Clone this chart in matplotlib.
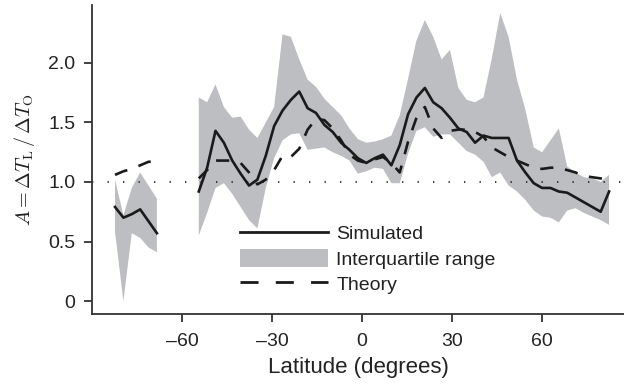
import matplotlib
matplotlib.use('Agg')
import matplotlib.pyplot as plt
from matplotlib.patches import Patch
from matplotlib.lines import Line2D
import numpy as np

nan = np.nan

# T42 grid latitudes (degrees)
lat = [-82.33, -79.53, -76.74, -73.95, -71.16, -68.37,
       -65.58, -62.79, -60.00, -57.21,
       -54.42, -51.63, -48.84, -46.05, -43.26, -40.47, -37.67, -34.88,
       -32.09, -29.30, -26.51, -23.72, -20.93, -18.14, -15.35, -12.56,
       -9.77, -6.98, -4.19, -1.40, 1.40, 4.19, 6.98, 9.77, 12.56, 15.35,
       18.14, 20.93, 23.72, 26.51, 29.30, 32.09, 34.88, 37.67, 40.47,
       43.26, 46.05, 48.84, 51.63, 54.42, 57.21, 60.00, 62.79, 65.58,
       68.37, 71.16, 73.95, 76.74, 79.53, 82.33]

simulated = [0.79, 0.70, 0.73, 0.77, 0.67, 0.57,
             nan, nan, nan, nan,
             0.92, 1.12, 1.43, 1.33, 1.18, 1.07, 0.97, 1.02,
             1.22, 1.47, 1.60, 1.69, 1.76, 1.62, 1.58, 1.48,
             1.42, 1.33, 1.27, 1.20, 1.16, 1.20, 1.23, 1.14, 1.31, 1.57,
             1.71, 1.79, 1.67, 1.62, 1.54, 1.45, 1.42, 1.33, 1.39,
             1.37, 1.37, 1.37, 1.18, 1.08, 0.99, 0.95, 0.95, 0.92,
             0.91, 0.87, 0.83, 0.79, 0.75, 0.92]

iqr_low = [0.58, 0.00, 0.57, 0.53, 0.45, 0.41,
           nan, nan, nan, nan,
           0.55, 0.74, 0.95, 0.99, 0.90, 0.79, 0.68, 0.61,
           0.95, 1.20, 1.35, 1.40, 1.41, 1.27, 1.28, 1.29,
           1.25, 1.22, 1.18, 1.07, 1.09, 1.12, 1.11, 0.99, 0.99, 1.24,
           1.43, 1.46, 1.38, 1.40, 1.40, 1.33, 1.26, 1.23, 1.17,
           1.04, 1.08, 0.97, 0.92, 0.85, 0.76, 0.71, 0.70, 0.66,
           0.76, 0.78, 0.74, 0.71, 0.68, 0.64]

iqr_high = [1.02, 0.72, 0.95, 1.08, 0.97, 0.86,
            nan, nan, nan, nan,
            1.71, 1.67, 1.82, 1.63, 1.54, 1.55, 1.44, 1.37,
            1.50, 1.63, 2.24, 2.22, 2.03, 1.86, 1.80, 1.70,
            1.63, 1.56, 1.45, 1.36, 1.33, 1.34, 1.36, 1.39, 1.56, 1.87,
            2.19, 2.36, 2.22, 2.03, 2.11, 1.79, 1.69, 1.67, 1.71,
            2.04, 2.42, 2.22, 1.86, 1.61, 1.29, 1.25, 1.35, 1.45,
            1.13, 1.08, 1.04, 1.03, 1.00, 1.06]

theory = [1.06, 1.09, 1.11, 1.14, 1.17, 1.17,
          nan, nan, nan, nan,
          1.03, 1.10, 1.18, 1.18, 1.18, 1.16, 1.08, 0.98,
          1.02, 1.10, 1.22, 1.21, 1.28, 1.44, 1.53, 1.52,
          1.45, 1.35, 1.23, 1.18, 1.16, 1.19, 1.21, 1.16, 1.08, 1.34,
          1.54, 1.63, 1.45, 1.37, 1.43, 1.44, 1.44, 1.42, 1.38,
          1.29, 1.25, 1.21, 1.18, 1.15, 1.12, 1.11, 1.12, 1.12,
          1.10, 1.08, 1.05, 1.04, 1.03, 1.04]

xticks = [-60, -30, 0, 30, 60]
yticks = [0, 0.5, 1.0, 1.5, 2.0]
ytick_labels = ['0', '0.5', '1.0', '1.5', '2.0']

plt.rcParams['font.family'] = ['Liberation Sans', 'DejaVu Sans']
plt.rcParams['mathtext.fontset'] = 'cm'

gray = '#bdbec2'
ink = '#1a1a1a'
axcol = '#333333'
txt = '#222222'

fig = plt.figure(figsize=(6.24, 3.9), dpi=100)
ax = fig.add_axes([92/624, 1 - 314/390, 1 - 92/624, (314 - 5)/390])

lat_a = np.array(lat)
ax.fill_between(lat_a, np.array(iqr_low), np.array(iqr_high),
                color=gray, lw=0, zorder=1)
ax.axhline(1.0, color=ink, lw=1.2, ls=(0, (0.8, 8.5)), zorder=2)
ax.plot(lat_a, theory, color=ink, lw=1.9, ls=(0, (5, 4.5)), zorder=3)
ax.plot(lat_a, simulated, color=ink, lw=1.9, zorder=4)

ax.set_xlim(-90, 87.3)
ax.set_ylim(-0.109, 2.487)
ax.set_xticks(xticks)
ax.set_xticklabels([str(v).replace('-', '\u2013') for v in xticks])
ax.set_yticks(yticks)
ax.set_yticklabels(ytick_labels)

for s in ['top', 'right']:
    ax.spines[s].set_visible(False)
for s in ['left', 'bottom']:
    ax.spines[s].set_color(axcol)
    ax.spines[s].set_linewidth(1.3)
ax.tick_params(direction='out', length=6, width=1.3, color=axcol,
               labelsize=14, labelcolor=txt, pad=6)
ax.tick_params(axis='x', pad=8)

ax.set_xlabel('Latitude (degrees)', fontsize=16, color=txt, labelpad=5)
ax.set_ylabel(r'$A = \Delta T_{\mathrm{L}}\,/\,\Delta T_{\mathrm{O}}$',
              fontsize=14.5, color=txt, labelpad=8)

handles = [Line2D([], [], color=ink, lw=2.0),
           Patch(facecolor=gray, edgecolor='none'),
           Line2D([], [], color=ink, lw=2.0, ls=(0, (6.5, 6.2)))]
labels = ['Simulated', 'Interquartile range', 'Theory']
ax.legend(handles, labels, loc='upper left',
          bbox_to_anchor=(240/624, 1 - 224/390), bbox_transform=fig.transFigure,
          frameon=False, fontsize=14, handlelength=4.5, handleheight=1.0,
          handletextpad=0.45, labelspacing=0.3, borderpad=0, borderaxespad=0,
          labelcolor=txt)

fig.savefig('out.png', dpi=100)
